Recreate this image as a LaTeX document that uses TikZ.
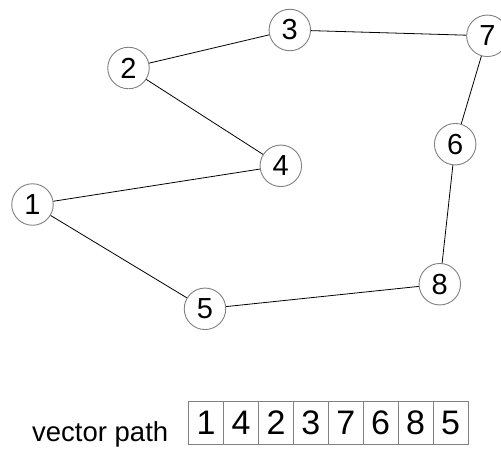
\documentclass[tikz,border=0pt]{standalone}
\usepackage{fontspec}
\setmainfont{Liberation Sans}
\begin{document}
\begin{tikzpicture}[x=1pt,y=-1pt,
  vertex/.style={circle,draw=black!50,line width=0.9pt,fill=white,minimum size=41.5pt,inner sep=0pt,font=\fontsize{29}{29}\selectfont},
  edge/.style={black,line width=0.8pt},
  cell/.style={rectangle,draw=black!50,line width=0.9pt,minimum width=34.9pt,minimum height=43.6pt,inner sep=0pt,anchor=north west,font=\fontsize{34}{34}\selectfont}]
\useasboundingbox (0,0) rectangle (501,448);
% graph vertices
\node[vertex] (n1) at (32.5,204.5) {1};
\node[vertex] (n2) at (128.5,68) {2};
\node[vertex] (n3) at (289.8,30) {3};
\node[vertex] (n4) at (280.8,165.8) {4};
\node[vertex] (n5) at (205,308.8) {5};
\node[vertex] (n6) at (455.2,144.2) {6};
\node[vertex] (n7) at (487.4,35.8) {7};
\node[vertex] (n8) at (439.8,284.2) {8};
% tour edges
\draw[edge] (n1) -- (n4);
\draw[edge] (n4) -- (n2);
\draw[edge] (n2) -- (n3);
\draw[edge] (n3) -- (n7);
\draw[edge] (n7) -- (n6);
\draw[edge] (n6) -- (n8);
\draw[edge] (n8) -- (n5);
\draw[edge] (n5) -- (n1);
% array holding the tour
\node[anchor=base west,font=\fontsize{27.5}{27.5}\selectfont,inner sep=0pt] (lbl) at (32,441.5) {vector path};
\foreach \v [count=\i from 0] in {1,4,2,3,7,6,8,5} {
  \node[cell] (c\i) at (188.3+34.9*\i,400.7) {\v};
}
\end{tikzpicture}
\end{document}
